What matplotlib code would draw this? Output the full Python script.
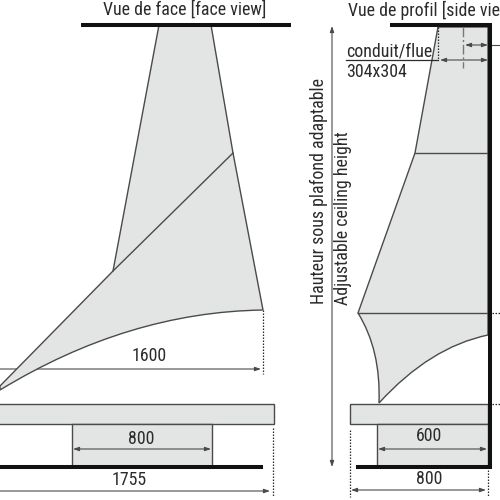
import matplotlib
matplotlib.use('Agg')
import matplotlib.pyplot as plt
from matplotlib import font_manager
from matplotlib.path import Path
from matplotlib.patches import PathPatch, Rectangle

# everything, in image pixels
FACE_TOP_BAR = [81, 291, 25]
FACE_BASE_LINE = [0, 263, 467]
FACE_OUTLINE = [(159, 25), (211, 25), (233, 153), (263, 310)]
FACE_CURVE_CTRL = (128, 312)
FACE_CURVE_END = (0, 390)
FACE_LEFT = [(0, 386), (113, 271)]
FACE_DIAGONAL = [(113, 271), (233, 153)]
FACE_SHELF = [-10, 404, 284, 20]
FACE_BASE = [72, 424, 140, 43]

SIDE_TOP_BAR = [390, 492, 25]
SIDE_BASE_LINE = [356, 492, 467]
SIDE_WALL = [490, 25, 467]
SIDE_OUTLINE = [(488, 27), (438, 27), (415, 153), (358, 313)]
SIDE_CURVE1 = [(381, 350), (379, 403)]
SIDE_CURVE2 = [(430, 347), (488, 335)]
SIDE_RULES = [(415, 153), (358, 313)]
SIDE_SHELF = [350, 404, 138, 20]
SIDE_BASE = [377, 424, 111, 43]

# x0, y0, x1, y1
ARROWS = [
    (-10, 369, 261, 369), (73, 449, 211, 449), (-10, 491, 270, 491),
    (378, 449, 487, 449), (351, 490, 486, 490),
    (440, 60, 488, 60), (465, 45, 488, 45),
    (332, 26, 332, 467),
]
DOTTED = [
    (263, 310, 263, 374), (273, 428, 273, 497), (350, 430, 350, 497),
    (488, 470, 488, 497), (438, 27, 438, 60),
    (492, 313, 500, 313), (492, 404, 500, 404),
]
# text, x, y, rotation, anchor
LABELS = [
    ('Vue de face [face view]', 185, 10, 0, 'center'),
    ('Vue de profil [side view]', 348, 10, 0, 'left'),
    ('conduit/flue', 346, 51, 0, 'left'),
    ('304x304', 346, 72, 0, 'left'),
    ('1600', 149, 356, 0, 'center'),
    ('800', 141, 439, 0, 'center'),
    ('1755', 129, 480, 0, 'center'),
    ('600', 429, 436, 0, 'center'),
    ('800', 429, 479, 0, 'center'),
    ('Hauteur sous plafond adaptable', 319, 191, 90, 'center'),
    ('Adjustable ceiling height', 343, 218, 90, 'center'),
]

FILL = '#e3e5e4'
EDGE = '#4a4a4a'
INK = '#2b2b2b'

# the reference uses a narrow grotesque, take one if it is around
names = {f.name for f in font_manager.fontManager.ttflist}
font_size = 11.6
plt.rcParams['font.family'] = ['Liberation Sans']
for narrow in ['Liberation Sans Narrow', 'Roboto Condensed', 'Open Sans Condensed']:
    if narrow in names:
        plt.rcParams['font.family'] = [narrow]
        font_size = 12.9
        break

fig = plt.figure(figsize=(5, 5), dpi=100)
ax = fig.add_axes([0, 0, 1, 1])
ax.set_xlim(0, 500)
ax.set_ylim(500, 0)
ax.axis('off')


def box(r):
    ax.add_patch(Rectangle((r[0], r[1]), r[2], r[3], facecolor=FILL, edgecolor=EDGE, lw=1.0, zorder=2))


# face view
verts = FACE_OUTLINE + [FACE_CURVE_CTRL, FACE_CURVE_END] + FACE_LEFT + [FACE_OUTLINE[0]]
codes = [Path.MOVETO] + [Path.LINETO] * 3 + [Path.CURVE3, Path.CURVE3] + [Path.LINETO] * 3
ax.add_patch(PathPatch(Path(verts, codes), facecolor=FILL, edgecolor=EDGE, lw=1.0, zorder=2))
ax.plot(*zip(*FACE_DIAGONAL), color=EDGE, lw=1.0, zorder=3)
box(FACE_SHELF)
box(FACE_BASE)

# side view
verts = SIDE_OUTLINE + SIDE_CURVE1 + SIDE_CURVE2 + [SIDE_OUTLINE[0]]
codes = [Path.MOVETO] + [Path.LINETO] * 3 + [Path.CURVE3] * 4 + [Path.LINETO]
ax.add_patch(PathPatch(Path(verts, codes), facecolor=FILL, edgecolor=EDGE, lw=1.0, zorder=2))
for x, y in SIDE_RULES:
    ax.plot([x, 488], [y, y], color=EDGE, lw=1.0, zorder=3)
box(SIDE_SHELF)
box(SIDE_BASE)

# thick black lines
for x0, x1, y in [FACE_TOP_BAR, FACE_BASE_LINE, SIDE_TOP_BAR, SIDE_BASE_LINE]:
    ax.plot([x0, x1], [y, y], color='#111111', lw=2.9, solid_capstyle='butt', zorder=5)
ax.plot([SIDE_WALL[0]] * 2, SIDE_WALL[1:], color='#111111', lw=2.9, solid_capstyle='butt', zorder=5)

# dimensions, the 1600 one runs behind the hood
for a in ARROWS:
    ax.annotate('', xy=(a[2], a[3]), xytext=(a[0], a[1]), zorder=1 if a[1] == 369 else 4,
                arrowprops=dict(arrowstyle='<|-|>,head_length=0.35,head_width=0.12',
                                color=EDGE, lw=0.8, shrinkA=0, shrinkB=0))
for x0, y0, x1, y1 in DOTTED:
    ax.plot([x0, x1], [y0, y1], color=INK, lw=0.9, ls=(0, (1.2, 1.2)), zorder=4)
ax.plot([463, 463], [27, 68], color='#777777', lw=1.0, ls=(0, (7, 2, 1.5, 2)), zorder=4)
ax.plot([346, 438], [60, 60], color=INK, lw=0.9, zorder=4)
ax.plot([488, 500], [45, 45], color=EDGE, lw=0.8, zorder=4)

for s, x, y, rot, ha in LABELS:
    ax.text(x, y, s, rotation=rot, ha=ha, va='center', fontsize=font_size, color=INK,
            clip_on=True, zorder=6)

fig.savefig('out.png', dpi=100)
